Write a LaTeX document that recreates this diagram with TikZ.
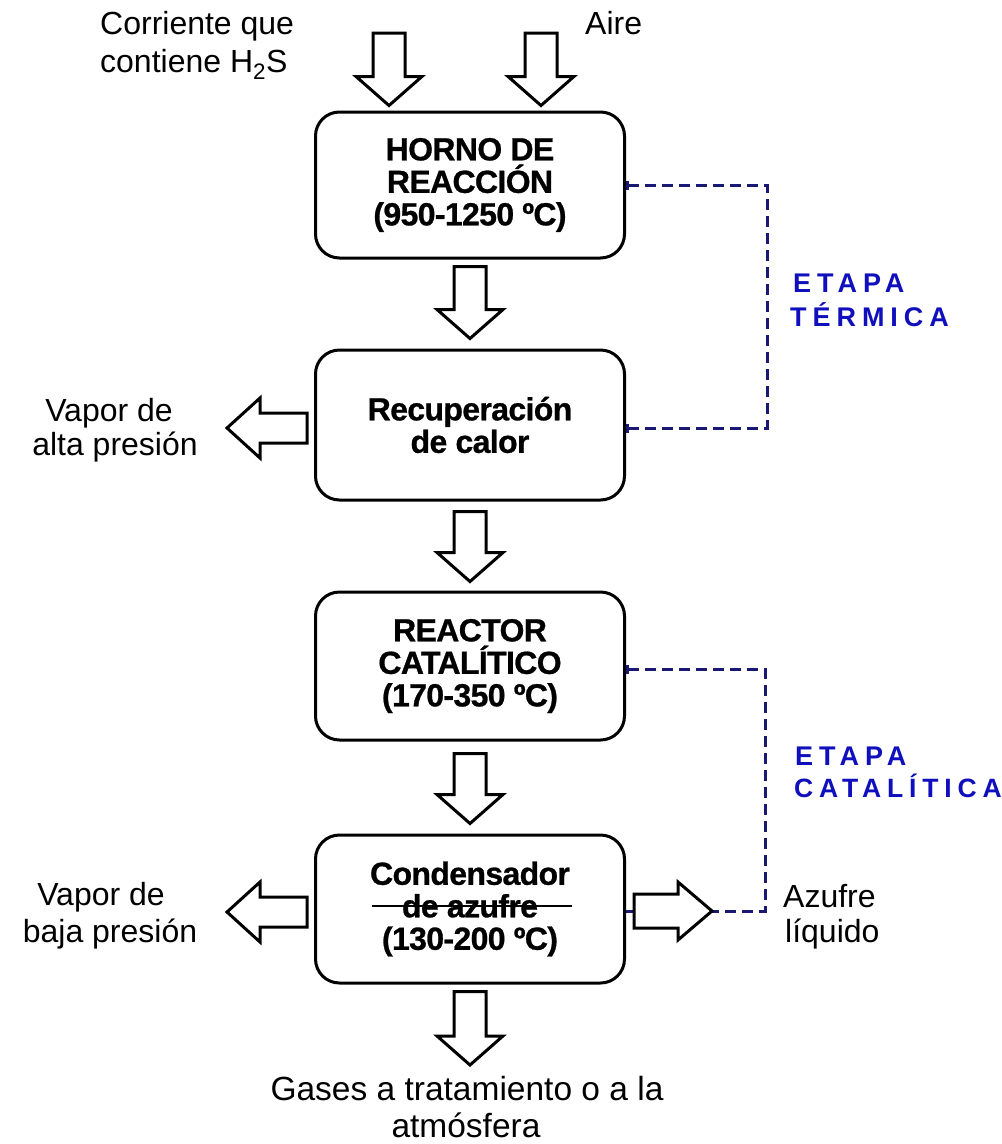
\documentclass[tikz,border=0pt]{standalone}
\usepackage{fontspec}
\setmainfont{Liberation Sans}
\newfontfamily\etapafont{Liberation Sans}[LetterSpace=22]
\newfontfamily\boxfont{Liberation Sans Bold}[FakeBold=0.8,LetterSpace=-2]
\usetikzlibrary{calc,arrows.meta}
\definecolor{dashnavy}{RGB}{25,25,115}
\definecolor{etapablue}{RGB}{15,15,190}
\newcommand\vblock[2]{\draw[blk] let \p1=#1, \p2=#2 in
  (\x1-16pt,\y1) -- (\x1+16pt,\y1) -- (\x1+16pt,\y2+29pt) -- (\x1+33pt,\y2+29pt)
  -- (\x1,\y2) -- (\x1-33pt,\y2+29pt) -- (\x1-16pt,\y2+29pt) -- cycle;}
\newcommand\lblock[2]{\draw[blk] let \p1=#1, \p2=#2 in
  (\x1,\y1+15pt) -- (\x2+33pt,\y1+15pt) -- (\x2+33pt,\y1+30pt) -- (\x2,\y1)
  -- (\x2+33pt,\y1-30pt) -- (\x2+33pt,\y1-15pt) -- (\x1,\y1-15pt) -- cycle;}
\newcommand\rblock[2]{\draw[blk] let \p1=#1, \p2=#2 in
  (\x1,\y1+17pt) -- (\x2-34pt,\y1+17pt) -- (\x2-34pt,\y1+29pt) -- (\x2,\y1)
  -- (\x2-34pt,\y1-29pt) -- (\x2-34pt,\y1-17pt) -- (\x1,\y1-17pt) -- cycle;}
\begin{document}
\begin{tikzpicture}[x=1pt,y=-1pt,
  proc/.style={draw,line width=3pt,rounded corners=24pt,minimum width=309pt,align=center,
    font=\boxfont\fontsize{32}{32.5}\selectfont,inner sep=0pt},
  lbl/.style={anchor=base,inner sep=0pt,font=\fontsize{32}{38}\selectfont},
  lblw/.style={lbl,anchor=base west},
  blk/.style={draw,line width=3pt,fill=white,line join=miter},
  etapa/.style={anchor=base west,inner sep=0pt,text=etapablue,
    font=\etapafont\bfseries\fontsize{27}{30}\selectfont},
  stage/.style={draw=dashnavy,line width=3pt,dash pattern=on 11pt off 6pt}]
\useasboundingbox[fill=white] (0,0) rectangle (1002,1144);

% process boxes
\node[proc,minimum height=146pt] (horno) at (470,185) {HORNO DE\\REACCIÓN\\(950-1250 ºC)};
\node[proc,minimum height=150pt] (recup) at (470,425) {Recuperación\\de calor};
\node[proc,minimum height=148pt] (reactor) at (470,666) {REACTOR\\CATALÍTICO\\(170-350 ºC)};
\node[proc,minimum height=148pt] (cond) at (470,909) {Condensador\\de azufre\\(130-200 ºC)};
\draw[line width=2pt] ([xshift=-98pt,yshift=3pt]cond.center) -- ([xshift=102pt,yshift=3pt]cond.center);

% free ends
\coordinate (inA) at (389,33);
\coordinate (inB) at (541,33);
\coordinate (vapA) at (227,428);
\coordinate (vapB) at (227,912);
\coordinate (sout) at (712,911);
\coordinate (gasout) at (470,1065);
\coordinate (tA) at (767,185);
\coordinate (tB) at (767,428);
\coordinate (cA) at (765,669);
\coordinate (cB) at (765,911);

% stage brackets
\draw[stage,{Bar[width=9pt,length=2pt]}-{Bar[width=9pt,length=2pt]}] (horno.east) -- (tA) -- (tB) -- ([yshift=-3pt]recup.east);
\draw[stage,{Bar[width=9pt,length=2pt]}-] ([yshift=-3pt]reactor.east) -- (cA) -- (cB) -- ([yshift=-2pt]cond.east);

% block arrows
\vblock{(inA)}{([xshift=-81pt,yshift=5pt]horno.north)}
\vblock{(inB)}{([xshift=71pt,yshift=5pt]horno.north)}
\vblock{([yshift=-7pt]horno.south)}{([yshift=10pt]recup.north)}
\vblock{([yshift=-10pt]recup.south)}{([yshift=9pt]reactor.north)}
\vblock{([yshift=-12pt]reactor.south)}{([yshift=10pt]cond.north)}
\vblock{([yshift=-7pt]cond.south)}{(gasout)}
\lblock{([xshift=-7pt,yshift=-3pt]recup.west)}{(vapA)}
\lblock{([xshift=-7pt,yshift=-3pt]cond.west)}{(vapB)}
\rblock{([xshift=8pt,yshift=-2pt]cond.east)}{(sout)}

% labels
\node[lblw] (corr1) at (100,34) {Corriente que};
\node[lblw] (corr2) at (100,72) {contiene H\textsubscript{2}S};
\node[lblw] (aire) at (585,34) {Aire};
\node[lbl] (va1) at (109,421) {Vapor de};
\node[lbl] (va2) at (115,455) {alta presión};
\node[lbl] (vb1) at (101,905) {Vapor de};
\node[lbl] (vb2) at (110,942) {baja presión};
\node[lblw] (az1) at (783,907) {Azufre};
\node[lblw] (az2) at (785,942) {líquido};
\node[lbl,font=\fontsize{33.5}{38}\selectfont] (gas1) at (467,1100) {Gases a tratamiento o a la};
\node[lbl,font=\fontsize{33.5}{38}\selectfont] (gas2) at (466,1137) {atmósfera};
\node[etapa] (et1) at (793,292) {ETAPA};
\node[etapa] (et2) at (790,326) {TÉRMICA};
\node[etapa] (ec1) at (795,765) {ETAPA};
\node[etapa,font=\etapafont\bfseries\fontsize{26.5}{30}\selectfont] (ec2) at (794,797) {CATALÍTICA};
\end{tikzpicture}
\end{document}
